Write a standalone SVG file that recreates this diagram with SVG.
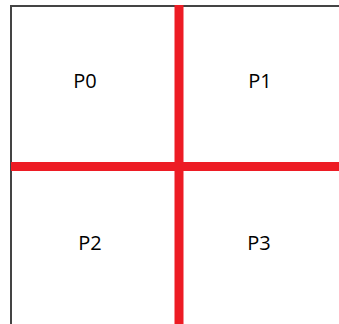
<svg xmlns="http://www.w3.org/2000/svg" width="339" height="324" viewBox="0 0 339 324">
<style>
.lbl{font-family:"Open Sans","Liberation Sans",sans-serif;font-size:20px;fill:#000;text-anchor:middle}
.red{stroke:#ed1c24;stroke-width:9;fill:none}
</style>
<rect width="339" height="324" fill="#fff"/>
<g id="border"><path d="M11 330 V6 H345" stroke="#444" stroke-width="2" fill="none"/></g>
<g id="connectors">
<line class="red" x1="179" y1="5" x2="179" y2="324"/>
<line class="red" x1="11" y1="166.5" x2="339" y2="166.5"/>
</g>
<g id="P0"><text class="lbl" x="85" y="88">P0</text></g>
<g id="P1"><text class="lbl" x="260" y="88">P1</text></g>
<g id="P2"><text class="lbl" x="90" y="250">P2</text></g>
<g id="P3"><text class="lbl" x="259" y="250">P3</text></g>
</svg>
